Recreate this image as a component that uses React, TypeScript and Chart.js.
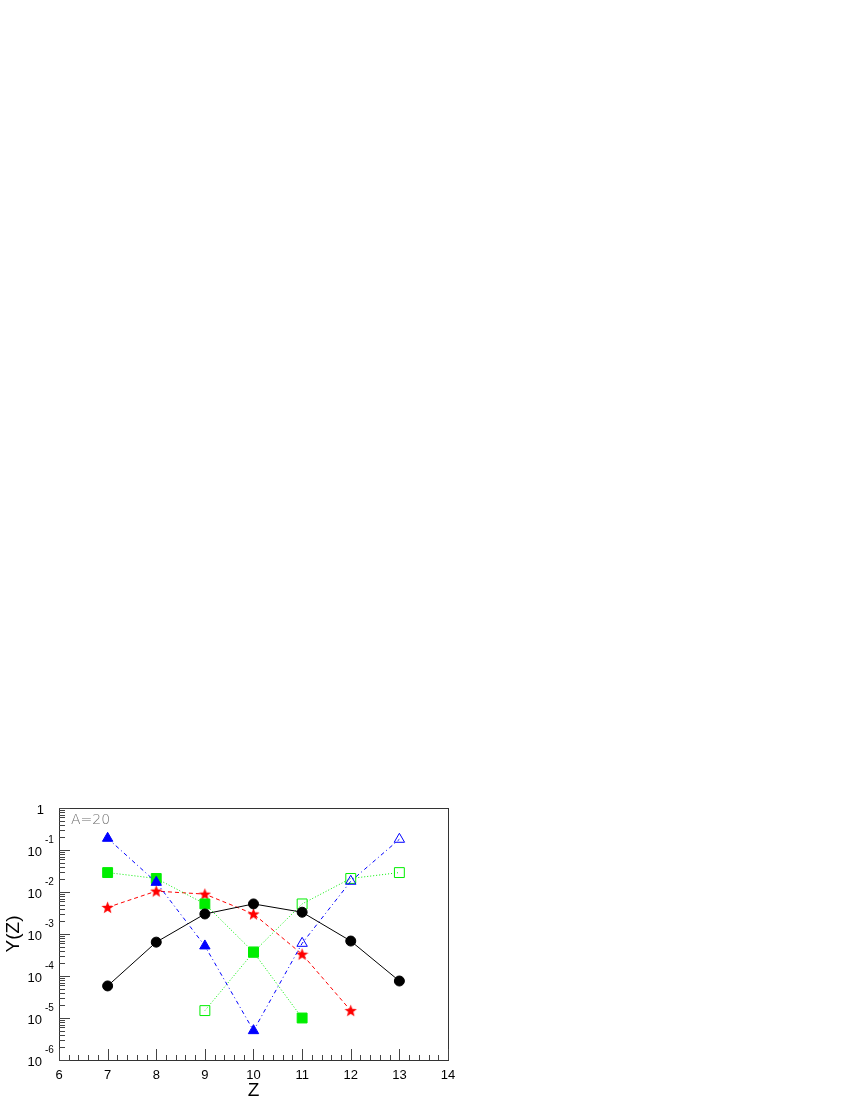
import React, { useEffect, useRef } from "react";
import { Chart, registerables } from "chart.js";

Chart.register(...registerables);

const zValues = [7, 8, 9, 10, 11, 12, 13];

const blackCircles = [5.8e-5, 6.4e-4, 3.0e-3, 5.2e-3, 3.3e-3, 6.8e-4, 7.6e-5];

const blueTriangleZ = [7, 8, 9, 10, 11, 12, 13];
const blueTriangles = [0.19, 0.017, 5.2e-4, 5.0e-6, 6.0e-4, 0.018, 0.18];
const blueFilled = [true, true, true, true, false, false, false];

const greenFilledZ = [7, 8, 9, 10, 11];
const greenFilled = [0.029, 0.021, 5.2e-3, 3.7e-4, 1.0e-5];

const greenOpenZ = [9, 10, 11, 12, 13];
const greenOpen = [1.5e-5, 3.7e-4, 5.2e-3, 0.021, 0.029];

const redStarZ = [7, 8, 9, 10, 11, 12];
const redStars = [4.3e-3, 0.0105, 8.9e-3, 3.0e-3, 3.3e-4, 1.5e-5];

const xTicks = [6, 7, 8, 9, 10, 11, 12, 13, 14];
const yExponents = [0, -1, -2, -3, -4, -5, -6];

const titleX = "Z";
const titleY = "Y(Z)";
const annotation = "A=20";

function makeStar(color: string, size: number): HTMLCanvasElement {
  const c = document.createElement("canvas");
  c.width = size;
  c.height = size;
  const ctx = c.getContext("2d")!;
  const cx = size / 2;
  const cy = size / 2 + 0.5;
  const R = size / 2;
  const r = R * 0.42;
  ctx.beginPath();
  for (let i = 0; i < 10; i++) {
    const rad = i % 2 === 0 ? R : r;
    const a = -Math.PI / 2 + (i * Math.PI) / 5;
    const px = cx + rad * Math.cos(a);
    const py = cy + rad * Math.sin(a);
    if (i === 0) ctx.moveTo(px, py);
    else ctx.lineTo(px, py);
  }
  ctx.closePath();
  ctx.fillStyle = color;
  ctx.fill();
  return c;
}

const pts = (xs: number[], ys: number[]) => xs.map((x, i) => ({ x, y: ys[i] }));

export default function App() {
  const ref = useRef<HTMLCanvasElement | null>(null);

  useEffect(() => {
    if (!ref.current) return;
    const star = makeStar("#ff0000", 13);
    const BLUE = "#0000ff";
    const GREEN = "#00ee00";
    const RED = "#ff0000";

    const axesPlugin = {
      id: "rootAxes",
      afterDraw(chart: any) {
        const ctx = chart.ctx as CanvasRenderingContext2D;
        const { left, right, top, bottom } = chart.chartArea;
        const xs = chart.scales.x;
        const ys = chart.scales.y;
        ctx.save();
        // frame
        ctx.strokeStyle = "#333";
        ctx.lineWidth = 1;
        ctx.strokeRect(Math.round(left) + 0.5, Math.round(top) + 0.5, Math.round(right - left), Math.round(bottom - top));
        // x ticks
        ctx.strokeStyle = "#444";
        ctx.beginPath();
        for (let v = 6; v <= 14.0001; v += 0.2) {
          const px = Math.round(xs.getPixelForValue(v)) + 0.5;
          const isMajor = Math.abs(v - Math.round(v)) < 1e-6;
          const len = isMajor ? 11 : 5;
          ctx.moveTo(px, bottom);
          ctx.lineTo(px, bottom - len);
        }
        ctx.stroke();
        // y ticks (log)
        ctx.beginPath();
        for (let e = -6; e <= 0; e++) {
          const py = Math.round(ys.getPixelForValue(Math.pow(10, e))) + 0.5;
          ctx.moveTo(left, py);
          ctx.lineTo(left + 11, py);
          if (e < 0) {
            for (let m = 2; m <= 9; m++) {
              const pm = Math.round(ys.getPixelForValue(m * Math.pow(10, e))) + 0.5;
              ctx.moveTo(left, pm);
              ctx.lineTo(left + 6, pm);
            }
          }
        }
        ctx.stroke();
        // x labels
        ctx.fillStyle = "#000";
        ctx.font = "13px 'Liberation Sans', Arial, sans-serif";
        ctx.textAlign = "center";
        ctx.textBaseline = "middle";
        xTicks.forEach((v) => {
          ctx.fillText(String(v), xs.getPixelForValue(v), bottom + 15);
        });
        // y labels
        yExponents.forEach((e) => {
          const py = ys.getPixelForValue(Math.pow(10, e));
          if (e === 0) {
            ctx.font = "13px 'Liberation Sans', Arial, sans-serif";
            ctx.textAlign = "right";
            ctx.textBaseline = "middle";
            ctx.fillText("1", left - 15, py + 2);
          } else {
            ctx.font = "13px 'Liberation Sans', Arial, sans-serif";
            ctx.textAlign = "right";
            ctx.textBaseline = "middle";
            ctx.fillText("10", left - 17, py + 2);
            ctx.font = "10px 'Liberation Sans', Arial, sans-serif";
            ctx.textAlign = "left";
            ctx.fillText(String(e), left - 14, py - 10);
          }
        });
        // titles
        ctx.font = "19px 'Liberation Sans', Arial, sans-serif";
        ctx.textAlign = "center";
        ctx.textBaseline = "middle";
        ctx.fillText(titleX, (left + right) / 2, bottom + 31);
        ctx.save();
        ctx.translate(14, (top + bottom) / 2);
        ctx.rotate(-Math.PI / 2);
        ctx.fillText(titleY, 0, 0);
        ctx.restore();
        // annotation
        ctx.font = "300 14px 'DejaVu Sans', sans-serif";
        ctx.fillStyle = "#6e6e6e";
        ctx.textAlign = "left";
        ctx.textBaseline = "middle";
        ctx.fillText(annotation, left + 12, top + 12);
        ctx.restore();
      },
    };

    const chart = new Chart(ref.current, {
      type: "line",
      data: {
        datasets: [
          {
            label: "black",
            data: pts(zValues, blackCircles),
            borderColor: "#000",
            backgroundColor: "#000",
            borderWidth: 1,
            pointStyle: "circle",
            pointRadius: 5,
            pointBorderWidth: 1,
            pointBackgroundColor: "#000",
            pointBorderColor: "#000",
            tension: 0,
          },
          {
            label: "blue",
            data: pts(blueTriangleZ, blueTriangles),
            borderColor: BLUE,
            borderWidth: 1,
            borderDash: [4, 3, 1, 3],
            pointStyle: "triangle",
            pointRadius: 6,
            pointBorderWidth: 1,
            pointBorderColor: BLUE,
            pointBackgroundColor: blueFilled.map((f) => (f ? BLUE : "rgba(0,0,0,0)")),
            tension: 0,
          },
          {
            label: "greenFilled",
            data: pts(greenFilledZ, greenFilled),
            borderColor: GREEN,
            borderWidth: 1,
            borderDash: [1, 2],
            pointStyle: "rect",
            pointRadius: 7,
            pointBorderWidth: 1,
            pointBorderColor: GREEN,
            pointBackgroundColor: GREEN,
            tension: 0,
          },
          {
            label: "greenOpen",
            data: pts(greenOpenZ, greenOpen),
            borderColor: GREEN,
            borderWidth: 1,
            borderDash: [1, 2],
            pointStyle: "rect",
            pointRadius: 7,
            pointBorderWidth: 1,
            pointBorderColor: GREEN,
            pointBackgroundColor: "rgba(0,0,0,0)",
            tension: 0,
          },
          {
            label: "red",
            data: pts(redStarZ, redStars),
            borderColor: RED,
            borderWidth: 1,
            borderDash: [4, 3],
            pointStyle: star as any,
            pointRadius: 6,
            tension: 0,
          },
        ],
      },
      options: {
        responsive: false,
        animation: false,
        events: [],
        layout: { padding: { left: 59, top: 808, right: 402, bottom: 40 } },
        plugins: { legend: { display: false }, tooltip: { enabled: false } },
        scales: {
          x: { type: "linear", min: 6, max: 14, display: false },
          y: { type: "logarithmic", min: 1e-6, max: 1, display: false },
        },
      },
      plugins: [axesPlugin],
    });
    return () => chart.destroy();
  }, []);

  return (
    <div style={{ position: "absolute", left: 0, top: 0, width: 850, height: 1100 }}>
      <canvas ref={ref} width={850} height={1100} style={{ width: 850, height: 1100, display: "block" }} />
    </div>
  );
}
